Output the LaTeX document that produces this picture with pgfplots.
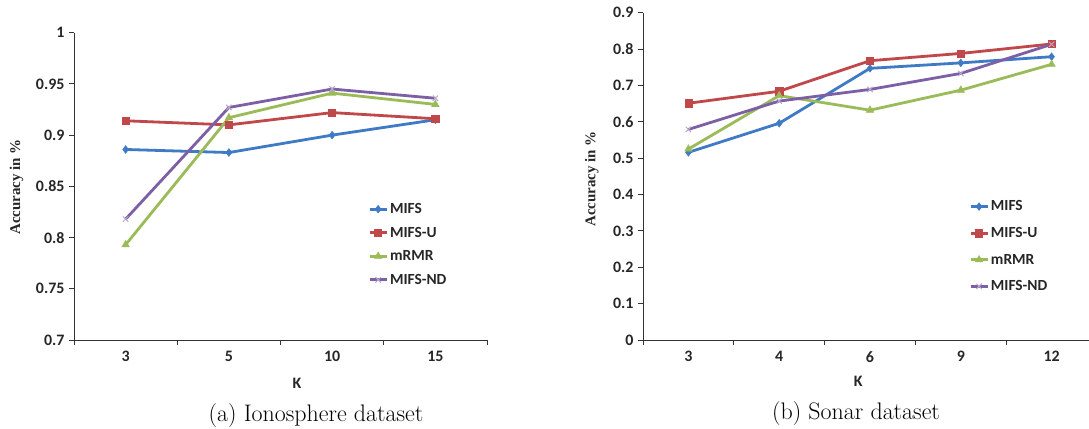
\documentclass[border=0pt]{standalone}
\usepackage{pgfplots}
\pgfplotsset{compat=1.18}
\usepackage{fontspec}
\newfontfamily\calibri{Carlito}
\newfontfamily\timesfont{Liberation Serif}

\definecolor{sMIFS}{HTML}{3F7BC4}
\definecolor{sMIFSU}{HTML}{C0474A}
\definecolor{smRMR}{HTML}{9BBB59}
\definecolor{sMIFSND}{HTML}{7D5FA6}
\definecolor{axisgray}{HTML}{333333}

% Ionosphere dataset
\pgfplotstableread{
k   mifs   mifsu  mrmr   mifsnd
0   0.886  0.914  0.793  0.818
1   0.883  0.910  0.917  0.927
2   0.900  0.922  0.941  0.945
3   0.915  0.916  0.930  0.936
}\ionosphere

% Sonar dataset
\pgfplotstableread{
k   mifs   mifsu  mrmr   mifsnd
0   0.516  0.651  0.525  0.579
1   0.596  0.684  0.672  0.657
2   0.747  0.768  0.632  0.689
3   0.762  0.788  0.687  0.733
4   0.779  0.814  0.758  0.813
}\sonar

\newcommand{\acclabel}{{\timesfont\bfseries\fontsize{15}{17}\selectfont Accuracy in \%}}

\pgfplotsset{
  excelline/.style={
    scale only axis,
    clip=false,
    axis x line*=bottom,
    axis y line*=left,
    axis line style={axisgray, line width=0.9bp},
    tick align=outside,
    major tick length=5bp,
    minor tick length=5bp,
    every tick/.style={axisgray, line width=0.9bp},
    major x tick style={draw=none},
    every tick label/.append style={font=\calibri\bfseries\fontsize{16}{19}\selectfont, text=black!85},
    xticklabel style={yshift=-3bp},
    yticklabel style={xshift=-1bp},
    xlabel={\calibri\bfseries\fontsize{16}{19}\selectfont K},
    xlabel style={text=black!85, anchor=center},
    ylabel={\acclabel},
    ylabel style={text=black!85, anchor=center},
    legend cell align=left,
    legend style={draw=none, fill=none, anchor=north west, inner sep=0pt,
      font=\calibri\bfseries\fontsize{15.5}{18}\selectfont, text=black!85},
    legend image code/.code={%
      \draw[mark repeat=2, mark phase=2, #1] plot coordinates {(0bp,0bp) (8.5bp,0bp) (17bp,0bp)};%
    },
    every axis plot/.append style={line width=2.8bp},
  },
  sMIFS/.style={color=sMIFS, mark=diamond*, mark size=3.8bp, mark options={solid, line width=0.6bp}},
  sMIFSU/.style={color=sMIFSU, mark=square*, mark size=3.6bp, mark options={solid, line width=0.6bp}},
  smRMR/.style={color=smRMR, mark=triangle*, mark size=4.2bp, mark options={solid, line width=0.6bp}},
  sMIFSND/.style={color=sMIFSND, mark=x, mark size=3.8bp, mark options={solid, line width=1bp, draw=sMIFSND!55}},
}

\begin{document}
\begin{tikzpicture}[x=1bp, y=1bp]

% (a) Ionosphere
\begin{axis}[excelline,
  at={(74bp,89bp)}, anchor=south west,
  width=413bp, height=307.3bp,
  xmin=-0.5, xmax=3.5,
  ymin=0.7, ymax=1,
  xtick={0,1,2,3}, xticklabels={3,5,10,15},
  minor xtick={-0.5,0.5,1.5,2.5,3.5},
  ytick={0.7,0.75,0.8,0.85,0.9,0.95,1},
  yticklabels={0.7,0.75,0.8,0.85,0.9,0.95,1},
  xlabel style={at={(axis description cs:0.54,-0.14)}},
  ylabel style={at={(axis description cs:-0.139,0.498)}},
  legend style={at={(axis description cs:0.712,0.452)}, row sep=8bp},
]
\addplot+[sMIFS]   table[x=k, y=mifs]   {\ionosphere};
\addplot+[sMIFSU]  table[x=k, y=mifsu]  {\ionosphere};
\addplot+[smRMR]   table[x=k, y=mrmr]   {\ionosphere};
\addplot+[sMIFSND] table[x=k, y=mifsnd] {\ionosphere};
\legend{MIFS, MIFS-U, mRMR, MIFS-ND}
\end{axis}

% (b) Sonar
\begin{axis}[excelline,
  at={(643bp,89bp)}, anchor=south west,
  width=454bp, height=327.3bp,
  xmin=-0.5, xmax=4.5,
  ymin=0, ymax=0.9,
  xtick={0,1,2,3,4}, xticklabels={3,4,6,9,12},
  minor xtick={-0.5,0.5,1.5,2.5,3.5,4.5},
  ytick={0,0.1,0.2,0.3,0.4,0.5,0.6,0.7,0.8,0.9},
  yticklabels={0,0.1,0.2,0.3,0.4,0.5,0.6,0.7,0.8,0.9},
  xlabel style={at={(axis description cs:0.474,-0.125)}},
  ylabel style={at={(axis description cs:-0.113,0.492)}},
  legend style={at={(axis description cs:0.718,0.432)}, row sep=11bp},
]
\addplot+[sMIFS]   table[x=k, y=mifs]   {\sonar};
\addplot+[sMIFSU]  table[x=k, y=mifsu]  {\sonar};
\addplot+[smRMR]   table[x=k, y=mrmr]   {\sonar};
\addplot+[sMIFSND] table[x=k, y=mifsnd] {\sonar};
\legend{MIFS, MIFS-U, mRMR, MIFS-ND}
\end{axis}

% sub-captions
\node[anchor=base, font=\fontsize{24}{28}\selectfont] at (316bp,7.3bp) {(a) Ionosphere dataset};
\node[anchor=base, font=\fontsize{24}{28}\selectfont] at (856bp,9.7bp) {(b) Sonar dataset};

\pgfresetboundingbox
\path (0bp,0bp) rectangle (1089bp,429bp);
\end{tikzpicture}
\end{document}
